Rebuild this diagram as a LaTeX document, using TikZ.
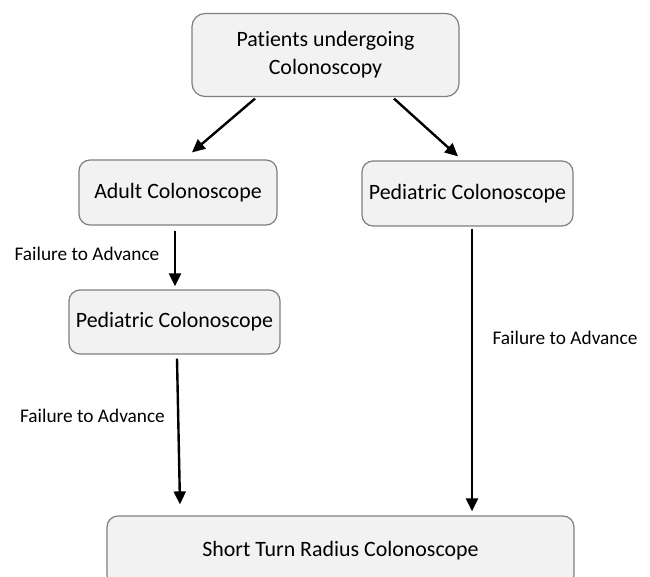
\documentclass[tikz,border=0pt]{standalone}
\usepackage{fontspec}
\setmainfont[Ligatures=NoCommon]{Carlito}
\usetikzlibrary{arrows.meta,calc}
\definecolor{boxfill}{HTML}{F2F2F2}
\definecolor{boxline}{HTML}{7F7F7F}
\begin{document}
\begin{tikzpicture}[x=1pt,y=-1pt,
  box/.style={draw=boxline,fill=boxfill,line width=1.2pt,rounded corners=11pt,
    inner sep=0pt,font=\fontsize{21.9}{28}\selectfont,align=center},
  lbl/.style={inner sep=0pt,font=\fontsize{19.3}{22}\selectfont},
  arr/.style={line width=2.4pt,-{Triangle[length=13pt,width=12pt]}}]
\useasboundingbox[fill=white] (0,0) rectangle (650,577);
\node[box,minimum width=267pt,minimum height=83pt,rounded corners=13pt] (top) at (325.5,55) {Patients undergoing\\Colonoscopy};
\node[box,minimum width=198pt,minimum height=65pt] (adult) at (178,192.5) {Adult Colonoscope};
\node[box,minimum width=211pt,minimum height=64pt] (lped) at (174.5,322) {Pediatric Colonoscope};
\node[box,minimum width=211pt,minimum height=65pt] (rped) at (467.5,193.5) {Pediatric Colonoscope};
\node[box,minimum width=467pt,minimum height=70pt] (bot) at (340.5,551) {Short Turn Radius Colonoscope};
\node[lbl] (l1) at (87,254) {Failure to Advance};
\node[lbl] (l2) at (92.5,416) {Failure to Advance};
\node[lbl] (l3) at (565,338) {Failure to Advance};
\draw[arr] ($(top.south)+(-70.5,1.5)$) -- ($(adult.north)+(14,-7)$);
\draw[arr] ($(top.south)+(68.5,1.5)$) -- ($(rped.north)+(-9.5,-4)$);
\draw[arr] ($(adult.south)+(-3,5)$) -- ($(lped.north)+(0.5,-3)$);
\draw[arr] ($(lped.south)+(2.5,4)$) -- ($(bot.north)+(-160.5,-11)$);
\draw[arr] ($(rped.south)+(4.5,2)$) -- ($(bot.north)+(131.5,-4)$);
\end{tikzpicture}
\end{document}
